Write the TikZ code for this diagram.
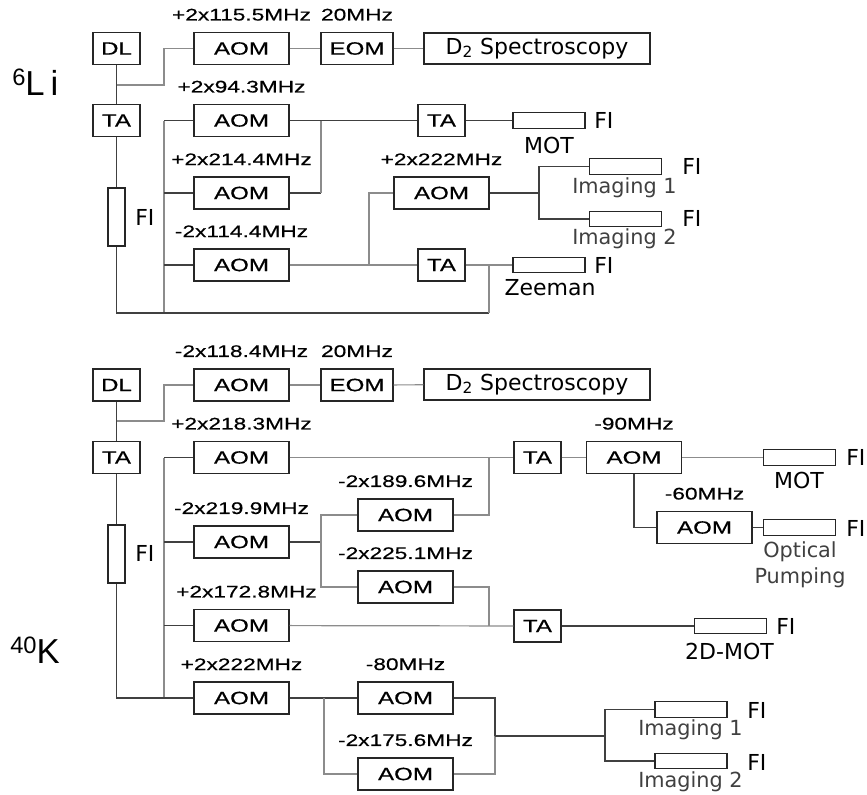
\documentclass[tikz,border=0pt]{standalone}
\usepackage{fontspec}
\setmainfont{Liberation Sans}
\newfontfamily\boxfont[FakeStretch=1.35, FakeBold=0.5]{Liberation Sans}
\newfontfamily\lblfont{DejaVu Sans}
\usetikzlibrary{positioning, calc}
\tikzset{
  dev/.style ={rectangle, draw=black!85, line width=0.9pt, minimum width=35.25pt, minimum height=24pt, inner sep=0pt, font=\boxfont\fontsize{13.4}{15}\selectfont},
  mod/.style ={dev, minimum width=71.25pt},
  spec/.style={dev, minimum width=169.5pt, minimum height=23.25pt, font=\lblfont\fontsize{16.5}{18}\selectfont},
  fib/.style ={rectangle, draw=black!85, line width=0.9pt, minimum width=54pt, minimum height=11.5pt, inner sep=0pt},
  fibv/.style={fib, minimum width=12.75pt, minimum height=43.5pt},
  frq/.style ={inner sep=0pt, font=\boxfont\fontsize{12.6}{14}\selectfont},
  fil/.style ={inner sep=0pt, anchor=west, font=\lblfont\fontsize{16.5}{18}\selectfont},
  tag/.style ={inner sep=0pt, font=\lblfont\fontsize{16.5}{18}\selectfont},
  sub/.style ={inner sep=0pt, text=black!75, align=center, font=\lblfont\fontsize{15.6}{19.5}\selectfont},
  iso/.style ={inner sep=0pt, anchor=base west, font=\fontsize{26}{30}\selectfont},
  ln/.style  ={draw=black!75, line width=0.9pt},
  lg/.style  ={draw=black!45, line width=0.9pt},
}

\begin{document}
\begin{tikzpicture}[x=0.75pt, y=-0.75pt]
  \useasboundingbox (0,0) rectangle (867,794);

  % 6Li
  \node[iso] (isoL) at (12,95) {\raisebox{7.5pt}{\fontsize{17.8}{20}\selectfont 6}L\kern4.5pt i};
  \node[dev] (dlL) at (116.5,48.5) {DL};
  \node[mod] (aomL0) at (241.5,48.5) {AOM};
  \node[dev, minimum width=54pt] (eomL) at (357,48.5) {EOM};
  \node[spec] (specL) at (537,48.5) {D\textsubscript{2} Spectroscopy};
  \node[dev] (taL) at (116.5,120.5) {TA};
  \node[mod] (aomL1) at (241.5,120.5) {AOM};
  \node[mod] (aomL2) at (241.5,193) {AOM};
  \node[mod] (aomL3) at (241.5,265) {AOM};
  \node[mod] (aomL4) at (441.5,193) {AOM};
  \node[dev] (taL1) at (441.5,120.5) {TA};
  \node[dev] (taL2) at (441.5,265) {TA};
  \node[fibv] (fiL) at (116.5,217) {};
  \node[tag, anchor=west] (fiLt) at (135,217) {FI};

  \node[frq, above=8.25pt of aomL0] (fL0) {+2x115.5MHz};
  \node[frq, above=8.25pt of eomL] (fLe) {20MHz};
  \node[frq, above=8.25pt of aomL1] (fL1) {+2x94.3MHz};
  \node[frq, above=8.25pt of aomL2] (fL2) {+2x214.4MHz};
  \node[frq, above=8.25pt of aomL3] (fL3) {-2x114.4MHz};
  \node[frq, above=8.25pt of aomL4] (fL4) {+2x222MHz};

  \node[fib] (mL) at (549,120.5) {};
  \node[fil] (mLfi) at (594,120.5) {FI};
  \node[tag] (mLt) at (549,145) {MOT};
  \node[fib] (i1L) at (625.5,166.5) {};
  \node[fil] (i1Lfi) at (682,166) {FI};
  \node[sub] (i1Lt) at (624.5,188) {Imaging 1};
  \node[fib] (i2L) at (625.5,219) {};
  \node[fil] (i2Lfi) at (682,218) {FI};
  \node[sub] (i2Lt) at (624.5,239) {Imaging 2};
  \node[fib] (zL) at (549,265) {};
  \node[fil] (zLfi) at (594,265) {FI};
  \node[tag] (zLt) at (550,288) {Zeeman};

  \coordinate (jL0) at (116.5,85);
  \coordinate (cL0) at (164,85);
  \coordinate (bLt) at (164,120.5);
  \coordinate (bLb) at (164,313);
  \coordinate (jLa) at (321,120.5);
  \coordinate (jLb) at (369,265);
  \coordinate (jLc) at (539,193);
  \coordinate (jLz) at (489,313);

  \draw[ln] (dlL) -- (taL);
  \draw[lg] (jL0) -- (cL0) |- (aomL0);
  \draw[lg] (aomL0) -- (eomL);
  \draw[lg] (eomL) -- (specL);
  \draw[ln] (taL) -- (fiL);
  \draw[lg] (bLt) -- (bLb);
  \draw[ln] (bLt) -- (aomL1);
  \draw[ln] (bLb |- aomL2) -- (aomL2);
  \draw[ln] (bLb |- aomL3) -- (aomL3);
  \draw[ln] (fiL) |- (jLz);
  \draw[lg] (jLz) -- (jLz |- taL2);
  \draw[ln] (aomL1) -- (taL1);
  \draw[ln] (aomL2) -- (aomL2 -| jLa);
  \draw[lg] (jLa) -- (jLa |- aomL2);
  \draw[lg] (aomL3) -- (taL2);
  \draw[lg] (jLb) |- (aomL4);
  \draw[ln] (aomL4) -- (jLc);
  \draw[ln] (i1L) -| (jLc) |- (i2L);
  \draw[ln] (taL1) -- (mL);
  \draw[lg] (taL2) -- (zL);

  % 40K
  \node[iso] (isoK) at (10,663) {\raisebox{7.5pt}{\fontsize{17.8}{20}\selectfont 40}K};
  \node[dev] (dlK) at (116.5,385) {DL};
  \node[mod] (aomK0) at (241.5,385) {AOM};
  \node[dev, minimum width=54pt] (eomK) at (357,385) {EOM};
  \node[spec] (specK) at (537,384.5) {D\textsubscript{2} Spectroscopy};
  \node[dev] (taK) at (116.5,457.5) {TA};
  \node[mod] (aomK1) at (241.5,457.5) {AOM};
  \node[mod] (aomK2) at (241.5,542) {AOM};
  \node[mod] (aomK3) at (241.5,625.5) {AOM};
  \node[mod] (aomK4) at (241.5,698) {AOM};
  \node[mod] (aomK5) at (405.5,515) {AOM};
  \node[mod] (aomK6) at (405.5,587) {AOM};
  \node[mod] (aomK7) at (405.5,698) {AOM};
  \node[mod] (aomK8) at (405.5,774) {AOM};
  \node[dev] (taK1) at (537.5,457.5) {TA};
  \node[dev] (taK2) at (537.5,626) {TA};
  \node[mod] (aomK9) at (634,457.5) {AOM};
  \node[mod] (aomK10) at (704.5,527.5) {AOM};
  \node[fibv] (fiK) at (116.5,554) {};
  \node[tag, anchor=west] (fiKt) at (135,553) {FI};

  \node[frq, above=8.25pt of aomK0] (fK0) {-2x118.4MHz};
  \node[frq, above=8.25pt of eomK] (fKe) {20MHz};
  \node[frq, above=8.25pt of aomK1] (fK1) {+2x218.3MHz};
  \node[frq, above=8.25pt of aomK2] (fK2) {-2x219.9MHz};
  \node[frq, above=8.25pt of aomK3, xshift=3.75pt] (fK3) {+2x172.8MHz};
  \node[frq, above=8.25pt of aomK4] (fK4) {+2x222MHz};
  \node[frq, above=8.25pt of aomK5] (fK5) {-2x189.6MHz};
  \node[frq, above=8.25pt of aomK6] (fK6) {-2x225.1MHz};
  \node[frq, above=8.25pt of aomK7] (fK7) {-80MHz};
  \node[frq, above=8.25pt of aomK8] (fK8) {-2x175.6MHz};
  \node[frq, above=8.25pt of aomK9] (fK9) {-90MHz};
  \node[frq, above=8.25pt of aomK10] (fK10) {-60MHz};

  \node[fib] (mK) at (799.5,457.5) {};
  \node[fil] (mKfi) at (846,457) {FI};
  \node[tag] (mKt) at (799,480) {MOT};
  \node[fib] (opK) at (799.5,527.5) {};
  \node[fil] (opKfi) at (846,528) {FI};
  \node[sub] (opKt) at (800,565) {Optical\\Pumping};
  \node[fib] (dK) at (730.5,626) {};
  \node[fil] (dKfi) at (776,626) {FI};
  \node[tag] (dKt) at (729.5,651) {2D-MOT};
  \node[fib] (i1K) at (691,709.5) {};
  \node[fil] (i1Kfi) at (747,710) {FI};
  \node[sub] (i1Kt) at (690.5,730) {Imaging 1};
  \node[fib] (i2K) at (691,761) {};
  \node[fil] (i2Kfi) at (747,762) {FI};
  \node[sub] (i2Kt) at (690.5,782) {Imaging 2};

  \coordinate (jK0) at (116.5,421);
  \coordinate (cK0) at (164,421);
  \coordinate (bKt) at (164,457.5);
  \coordinate (bKb) at (164,698);
  \coordinate (jK1) at (489,457.5);
  \coordinate (jK2) at (321,542);
  \coordinate (jK3) at (489,626);
  \coordinate (jK5) at (324,698);
  \coordinate (jK6) at (495,736);
  \coordinate (jK7) at (605,736);

  \draw[ln] (dlK) -- (taK);
  \draw[lg] (jK0) -- (cK0) |- (aomK0);
  \draw[lg] (aomK0) -- (eomK);
  \draw[lg] (eomK) -- (specK);
  \draw[ln] (taK) -- (fiK);
  \draw[lg] (bKt) -- (bKb);
  \draw[ln] (bKt) -- (aomK1);
  \draw[ln] (bKb |- aomK2) -- (aomK2);
  \draw[ln] (bKb |- aomK3) -- (aomK3);
  \draw[ln] (fiK) |- (aomK4);
  \draw[lg] (aomK1) -- (taK1);
  \draw[lg] (jK1) |- (aomK5);
  \draw[ln] (aomK2) -- (jK2);
  \draw[lg] (aomK5) -| (jK2) |- (aomK6);
  \draw[lg] (aomK3) -- (taK2);
  \draw[lg] (aomK6) -| (jK3);
  \draw[lg] (taK1) -- (aomK9);
  \draw[lg] (aomK9) -- (mK);
  \draw[ln] (aomK9) |- (aomK10);
  \draw[ln] (aomK10) -- (opK);
  \draw[ln] (taK2) -- (dK);
  \draw[ln] (aomK4) -- (aomK7);
  \draw[lg] (jK5) |- (aomK8);
  \draw[ln] (aomK7) -| (jK6);
  \draw[lg] (jK6) |- (aomK8);
  \draw[ln] (jK6) -- (jK7);
  \draw[ln] (i1K) -| (jK7) |- (i2K);
\end{tikzpicture}
\end{document}
